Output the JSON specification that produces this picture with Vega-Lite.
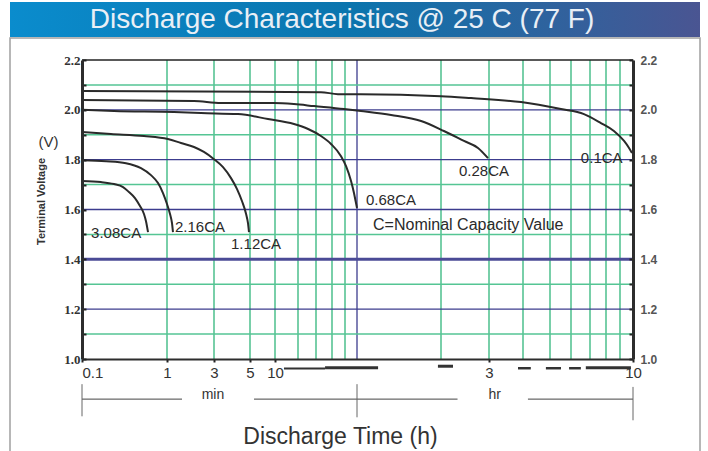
{
  "$schema": "https://vega.github.io/schema/vega-lite/v6.json",
  "padding": {"left": 9, "right": 9, "top": 2, "bottom": 0},
  "spacing": 0,
  "config": {"view": {"stroke": null}, "font": "Liberation Sans"},
  "datasets": {
    "curves": [
      {"rate": "3.08CA", "t": 0.1, "v": 1.714}, {"rate": "3.08CA", "t": 0.167, "v": 1.71}, {"rate": "3.08CA", "t": 0.238, "v": 1.702}, {"rate": "3.08CA", "t": 0.304, "v": 1.69}, {"rate": "3.08CA", "t": 0.357, "v": 1.67}, {"rate": "3.08CA", "t": 0.42, "v": 1.646}, {"rate": "3.08CA", "t": 0.481, "v": 1.614}, {"rate": "3.08CA", "t": 0.536, "v": 1.582}, {"rate": "3.08CA", "t": 0.566, "v": 1.553}, {"rate": "3.08CA", "t": 0.598, "v": 1.509},
      {"rate": "2.16CA", "t": 0.1, "v": 1.798}, {"rate": "2.16CA", "t": 0.192, "v": 1.794}, {"rate": "2.16CA", "t": 0.329, "v": 1.786}, {"rate": "2.16CA", "t": 0.494, "v": 1.766}, {"rate": "2.16CA", "t": 0.648, "v": 1.738}, {"rate": "2.16CA", "t": 0.784, "v": 1.706}, {"rate": "2.16CA", "t": 0.897, "v": 1.666}, {"rate": "2.16CA", "t": 1.0, "v": 1.622}, {"rate": "2.16CA", "t": 1.073, "v": 1.582}, {"rate": "2.16CA", "t": 1.124, "v": 1.545}, {"rate": "2.16CA", "t": 1.15, "v": 1.509},
      {"rate": "1.12CA", "t": 0.1, "v": 1.911}, {"rate": "1.12CA", "t": 0.219, "v": 1.903}, {"rate": "1.12CA", "t": 0.536, "v": 1.895}, {"rate": "1.12CA", "t": 1.02, "v": 1.883}, {"rate": "1.12CA", "t": 1.387, "v": 1.867}, {"rate": "1.12CA", "t": 1.879, "v": 1.851}, {"rate": "1.12CA", "t": 2.37, "v": 1.831}, {"rate": "1.12CA", "t": 3.0, "v": 1.802}, {"rate": "1.12CA", "t": 3.41, "v": 1.77}, {"rate": "1.12CA", "t": 3.82, "v": 1.726}, {"rate": "1.12CA", "t": 4.16, "v": 1.682}, {"rate": "1.12CA", "t": 4.46, "v": 1.634}, {"rate": "1.12CA", "t": 4.73, "v": 1.582}, {"rate": "1.12CA", "t": 4.86, "v": 1.545}, {"rate": "1.12CA", "t": 4.93, "v": 1.509},
      {"rate": "0.68CA", "t": 0.1, "v": 2.0}, {"rate": "0.68CA", "t": 0.238, "v": 1.995}, {"rate": "0.68CA", "t": 1.178, "v": 1.991}, {"rate": "0.68CA", "t": 2.21, "v": 1.987}, {"rate": "0.68CA", "t": 4.22, "v": 1.983}, {"rate": "0.68CA", "t": 8.24, "v": 1.963}, {"rate": "0.68CA", "t": 17.7, "v": 1.943}, {"rate": "0.68CA", "t": 25.1, "v": 1.923}, {"rate": "0.68CA", "t": 32.8, "v": 1.895}, {"rate": "0.68CA", "t": 39.3, "v": 1.863}, {"rate": "0.68CA", "t": 46.7, "v": 1.814}, {"rate": "0.68CA", "t": 50.8, "v": 1.774}, {"rate": "0.68CA", "t": 54.8, "v": 1.714}, {"rate": "0.68CA", "t": 57.3, "v": 1.666}, {"rate": "0.68CA", "t": 59.1, "v": 1.626}, {"rate": "0.68CA", "t": 60, "v": 1.606},
      {"rate": "0.28CA", "t": 0.1, "v": 2.039}, {"rate": "0.28CA", "t": 1.879, "v": 2.035}, {"rate": "0.28CA", "t": 3.31, "v": 2.027}, {"rate": "0.28CA", "t": 9.7, "v": 2.027}, {"rate": "0.28CA", "t": 17.7, "v": 2.023}, {"rate": "0.28CA", "t": 28.7, "v": 2.015}, {"rate": "0.28CA", "t": 49.2, "v": 2.003}, {"rate": "0.28CA", "t": 62, "v": 1.995}, {"rate": "0.28CA", "t": 79.5, "v": 1.979}, {"rate": "0.28CA", "t": 101.8, "v": 1.955}, {"rate": "0.28CA", "t": 123, "v": 1.915}, {"rate": "0.28CA", "t": 145.7, "v": 1.875}, {"rate": "0.28CA", "t": 164, "v": 1.847}, {"rate": "0.28CA", "t": 178.5, "v": 1.806},
      {"rate": "0.1CA", "t": 0.1, "v": 2.076}, {"rate": "0.1CA", "t": 32.8, "v": 2.071}, {"rate": "0.1CA", "t": 44.3, "v": 2.063}, {"rate": "0.1CA", "t": 62, "v": 2.063}, {"rate": "0.1CA", "t": 120, "v": 2.055}, {"rate": "0.1CA", "t": 154.7, "v": 2.047}, {"rate": "0.1CA", "t": 236, "v": 2.031}, {"rate": "0.1CA", "t": 330, "v": 2.003}, {"rate": "0.1CA", "t": 400, "v": 1.983}, {"rate": "0.1CA", "t": 460, "v": 1.947}, {"rate": "0.1CA", "t": 513, "v": 1.915}, {"rate": "0.1CA", "t": 558, "v": 1.875}, {"rate": "0.1CA", "t": 581, "v": 1.847}, {"rate": "0.1CA", "t": 595, "v": 1.827}
    ],
    "labels": [
      {"text": "3.08CA", "t": 0.128, "v": 1.505},
      {"text": "2.16CA", "t": 1.205, "v": 1.529},
      {"text": "1.12CA", "t": 3.82, "v": 1.461},
      {"text": "0.68CA", "t": 64.6, "v": 1.638},
      {"text": "0.28CA", "t": 139.7, "v": 1.754},
      {"text": "0.1CA", "t": 390, "v": 1.806},
      {"text": "C=Nominal Capacity Value", "t": 68.5, "v": 1.537}
    ],
    "hg": [
      {"v": 2.1, "k": "g"}, {"v": 1.9, "k": "g"}, {"v": 1.7, "k": "g"}, {"v": 1.5, "k": "g"}, {"v": 1.3, "k": "g"}, {"v": 1.1, "k": "g"},
      {"v": 2.0, "k": "n"}, {"v": 1.8, "k": "n"}, {"v": 1.6, "k": "n"}, {"v": 1.2, "k": "n"},
      {"v": 1.4, "k": "b"}, {"v": 2.2, "k": "t"}
    ],
    "vg": [
      {"t": 1, "k": "g"}, {"t": 3, "k": "g"}, {"t": 5, "k": "g"}, {"t": 10, "k": "g"}, {"t": 20, "k": "g"}, {"t": 30, "k": "g"}, {"t": 40, "k": "g"}, {"t": 50, "k": "g"},
      {"t": 120, "k": "g"}, {"t": 180, "k": "g"}, {"t": 240, "k": "g"}, {"t": 300, "k": "g"}, {"t": 360, "k": "g"}, {"t": 420, "k": "g"}, {"t": 480, "k": "g"}, {"t": 540, "k": "g"},
      {"t": 60, "k": "n"}
    ],
    "bars": [
      {"t": 13.1, "t2": 35.3, "v": 0.962, "w": "thin"},
      {"t": 35.3, "t2": 71.4, "v": 0.965, "w": "thick"},
      {"t": 117, "t2": 132.8, "v": 0.971, "w": "thick"},
      {"t": 230, "t2": 256, "v": 0.963, "w": "mid"},
      {"t": 290, "t2": 330, "v": 0.963, "w": "mid"},
      {"t": 354, "t2": 390, "v": 0.963, "w": "mid"},
      {"t": 406, "t2": 590, "v": 0.965, "w": "thick"}
    ],
    "brh": [
      {"t": 0.1, "t2": 1.42, "v": 0.839},
      {"t": 5.59, "t2": 138, "v": 0.839},
      {"t": 250, "t2": 600, "v": 0.839}
    ],
    "brv": [
      {"t": 0.1, "v": 0.899, "v2": 0.77},
      {"t": 60, "v": 0.899, "v2": 0.766},
      {"t": 600, "v": 0.888, "v2": 0.754}
    ],
    "brt": [
      {"text": "min", "t": 2.93, "v": 0.839},
      {"text": "hr", "t": 189, "v": 0.839}
    ]
  },
  "vconcat": [
    {
      "width": 690,
      "height": 35,
      "data": {"values": [{}]},
      "layer": [
        {
          "mark": {"type": "rect", "fill": {"gradient": "linear", "x1": 0, "x2": 1, "y1": 0, "y2": 0, "stops": [{"offset": 0, "color": "#0a8ccd"}, {"offset": 0.5, "color": "#0b74ad"}, {"offset": 1, "color": "#4a5592"}]}},
          "encoding": {}
        },
        {
          "mark": {"type": "text", "text": "Discharge Characteristics @ 25 C (77 F)", "fontSize": 28, "color": "#e9eff6", "dx": -13, "baseline": "middle", "align": "center"},
          "encoding": {}
        }
      ]
    },
    {
      "width": 690,
      "height": 414,
      "view": {"stroke": "#a0a0a0", "strokeWidth": 1.5},
      "resolve": {"axis": {"x": "independent", "y": "independent"}},
      "layer": [
        {
          "data": {"name": "vg"},
          "transform": [{"filter": "datum.k == 'g'"}],
          "mark": {"type": "rule", "color": "#4cbf8c", "strokeWidth": 1.5},
          "encoding": {
            "x": {"field": "t", "type": "quantitative", "axis": null, "scale": {"type": "log", "nice": false, "domain": [0.1, 1, 3, 5, 10, 20, 30, 40, 50, 60, 120, 180, 240, 300, 360, 420, 480, 540, 600], "range": [72, 157, 204, 240, 265, 288, 306, 322, 335, 347, 431, 479, 513, 540, 561, 580, 596, 610, 623]}},
            "y": {"datum": 1.0, "type": "quantitative", "axis": null, "scale": {"domain": [1.0, 2.2], "range": [321, 22], "nice": false, "zero": false}},
            "y2": {"datum": 2.2}
          }
        },
        {
          "data": {"name": "vg"},
          "transform": [{"filter": "datum.k == 'n'"}],
          "mark": {"type": "rule", "color": "#3c3c8e", "strokeWidth": 1.3},
          "encoding": {
            "x": {"field": "t", "type": "quantitative", "axis": null},
            "y": {"datum": 1.0, "type": "quantitative", "axis": null},
            "y2": {"datum": 2.2}
          }
        },
        {
          "data": {"name": "hg"},
          "transform": [{"filter": "datum.k == 'g'"}],
          "mark": {"type": "rule", "color": "#55c594", "strokeWidth": 1.5},
          "encoding": {
            "x": {"datum": 0.1, "type": "quantitative", "axis": null},
            "x2": {"datum": 600},
            "y": {"field": "v", "type": "quantitative", "axis": {"orient": "left", "offset": -72, "zindex": 2, "grid": false, "values": [1.0, 1.1, 1.2, 1.3, 1.4, 1.5, 1.6, 1.7, 1.8, 1.9, 2.0, 2.1, 2.2], "labelExpr": "round(datum.value * 10) % 2 == 0 ? format(datum.value, '.1f') : ''", "tickSize": -4, "tickWidth": 2, "tickColor": "#222", "domainColor": "#2d2d2d", "domainWidth": 3, "labelFont": "Liberation Serif", "labelFontWeight": "bold", "labelFontSize": 13, "labelColor": "#333", "labelPadding": 6, "title": "Terminal Voltage", "titleAngle": 270, "titleX": -41, "titleY": 163, "titleAlign": "center", "titleBaseline": "middle", "titleFont": "Liberation Sans", "titleFontWeight": "bold", "titleFontSize": 11, "titleColor": "#333"}}
          }
        },
        {
          "data": {"name": "hg"},
          "transform": [{"filter": "datum.k == 'n'"}],
          "mark": {"type": "rule", "color": "#3c3c8e", "strokeWidth": 1.3},
          "encoding": {
            "x": {"datum": 0.1, "type": "quantitative", "axis": null},
            "x2": {"datum": 600},
            "y": {"field": "v", "type": "quantitative", "axis": {"orient": "right", "offset": -67, "zindex": 2, "grid": false, "values": [1.0, 1.1, 1.2, 1.3, 1.4, 1.5, 1.6, 1.7, 1.8, 1.9, 2.0, 2.1, 2.2], "labelExpr": "round(datum.value * 10) % 2 == 0 ? format(datum.value, '.1f') : ''", "tickSize": -4, "tickWidth": 2, "tickColor": "#222", "domainColor": "#2d2d2d", "domainWidth": 3, "labelFont": "Liberation Sans", "labelFontWeight": "bold", "labelFontSize": 12, "labelColor": "#555", "labelPadding": 11, "title": "(V)", "titleAngle": 0, "titleX": -585, "titleY": 103, "titleAlign": "center", "titleBaseline": "middle", "titleFont": "Liberation Sans", "titleFontWeight": "normal", "titleFontSize": 15, "titleColor": "#333"}}
          }
        },
        {
          "data": {"name": "hg"},
          "transform": [{"filter": "datum.k == 'b'"}],
          "mark": {"type": "rule", "color": "#4b4b96", "strokeWidth": 3},
          "encoding": {
            "x": {"datum": 0.1, "type": "quantitative", "axis": null},
            "x2": {"datum": 600},
            "y": {"field": "v", "type": "quantitative", "axis": null}
          }
        },
        {
          "data": {"name": "hg"},
          "transform": [{"filter": "datum.k == 't'"}],
          "mark": {"type": "rule", "color": "#222", "strokeWidth": 1.5},
          "encoding": {
            "x": {"datum": 0.1, "type": "quantitative", "axis": null},
            "x2": {"datum": 600},
            "y": {"field": "v", "type": "quantitative", "axis": null}
          }
        },
        {
          "data": {"name": "curves"},
          "mark": {"type": "line", "color": "#2a2a2a", "strokeWidth": 2, "interpolate": "monotone"},
          "encoding": {
            "x": {"field": "t", "type": "quantitative", "axis": {"orient": "bottom", "offset": -93, "zindex": 2, "grid": false, "values": [0.1, 1, 3, 5, 10, 180, 600], "labelExpr": "datum.value == 180 ? '3' : (datum.value == 600 ? '10' : (datum.value < 1 ? '0.1' : '' + datum.value))", "labelAlign": {"condition": {"test": "datum.value < 1", "value": "left"}, "value": "center"}, "tickSize": 3, "tickWidth": 2, "tickColor": "#222", "domainColor": "#2d2d2d", "domainWidth": 2, "labelFontSize": 15, "labelColor": "#333", "labelPadding": 3, "labelFlush": false, "labelOverlap": false, "title": "Discharge Time (h)", "titleX": 330, "titleY": 84, "titleAlign": "center", "titleBaseline": "alphabetic", "titleFontSize": 23, "titleFontWeight": "normal", "titleColor": "#333"}},
            "y": {"field": "v", "type": "quantitative", "axis": null},
            "detail": {"field": "rate"}
          }
        },
        {
          "data": {"name": "labels"},
          "mark": {"type": "text", "align": "left", "baseline": "middle", "fontSize": 15, "color": "#2a2a2a"},
          "encoding": {
            "x": {"field": "t", "type": "quantitative", "axis": null},
            "y": {"field": "v", "type": "quantitative", "axis": null},
            "text": {"field": "text"},
            "size": {"condition": {"test": "length(datum.text) > 8", "value": 16}, "value": 15}
          }
        },
        {
          "data": {"name": "bars"},
          "mark": {"type": "rule", "color": "#333"},
          "encoding": {
            "x": {"field": "t", "type": "quantitative", "axis": null},
            "x2": {"field": "t2"},
            "y": {"field": "v", "type": "quantitative", "axis": null},
            "strokeWidth": {"field": "w", "type": "ordinal", "scale": {"domain": ["thin", "mid", "thick"], "range": [2, 3, 5]}, "legend": null}
          }
        },
        {
          "data": {"name": "brh"},
          "mark": {"type": "rule", "color": "#444", "strokeWidth": 1},
          "encoding": {
            "x": {"field": "t", "type": "quantitative", "axis": null},
            "x2": {"field": "t2"},
            "y": {"field": "v", "type": "quantitative", "axis": null}
          }
        },
        {
          "data": {"name": "brv"},
          "mark": {"type": "rule", "color": "#666", "strokeWidth": 1},
          "encoding": {
            "x": {"field": "t", "type": "quantitative", "axis": null},
            "y": {"field": "v", "type": "quantitative", "axis": null},
            "y2": {"field": "v2"}
          }
        },
        {
          "data": {"name": "brt"},
          "mark": {"type": "text", "align": "center", "baseline": "alphabetic", "fontSize": 14, "color": "#333"},
          "encoding": {
            "x": {"field": "t", "type": "quantitative", "axis": null},
            "y": {"field": "v", "type": "quantitative", "axis": null},
            "text": {"field": "text"}
          }
        }
      ]
    }
  ]
}
